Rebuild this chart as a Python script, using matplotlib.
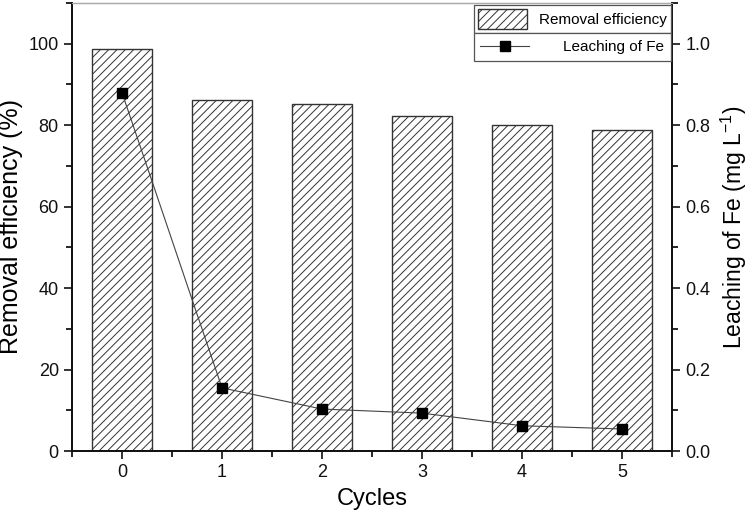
import matplotlib
matplotlib.use("Agg")
import matplotlib.pyplot as plt
from matplotlib.ticker import MultipleLocator, FormatStrFormatter
from matplotlib.patches import Patch
from matplotlib.lines import Line2D

plt.rcParams['font.family'] = ['Liberation Sans', 'DejaVu Sans']
plt.rcParams['hatch.linewidth'] = 0.7
plt.rcParams['hatch.color'] = '#333333'
plt.rcParams['mathtext.fontset'] = 'custom'
plt.rcParams['mathtext.rm'] = 'Liberation Sans'

cycles = [0, 1, 2, 3, 4, 5]
removal = [98.7, 86.3, 85.1, 82.2, 80.0, 78.7]
leaching = [0.88, 0.155, 0.103, 0.093, 0.062, 0.054]

fig = plt.figure(figsize=(7.49, 5.19), dpi=100)
ax = fig.add_axes([72/749, 68/519, 600/749, 448/519])
ax.bar(cycles, removal, width=0.6, color='white', edgecolor='#333333',
       linewidth=1.0, hatch='////')
ax.set_xlim(-0.5, 5.5)
ax.set_ylim(0, 110)
ax.xaxis.set_major_locator(MultipleLocator(1))
ax.xaxis.set_minor_locator(MultipleLocator(0.5))
ax.yaxis.set_major_locator(MultipleLocator(20))
ax.yaxis.set_minor_locator(MultipleLocator(10))
ax.tick_params(which='major', direction='out', length=6, width=1.2, labelsize=13, colors='#111111')
ax.tick_params(which='minor', direction='out', length=4, width=1.2)
ax.set_xlabel('Cycles', fontsize=17, labelpad=5)
ax.set_ylabel('Removal efficiency (%)', fontsize=18, labelpad=4)
for s in ['left', 'bottom', 'right']:
    ax.spines[s].set_linewidth(1.3)
    ax.spines[s].set_color('#111111')
ax.spines['top'].set_color('#aaaaaa')
ax.spines['top'].set_linewidth(1.0)

ax2 = ax.twinx()
ax2.plot(cycles, leaching, color='#444444', linewidth=0.8, marker='s',
         markersize=7, markerfacecolor='black', markeredgecolor='black')
ax2.set_ylim(0, 1.1)
ax2.yaxis.set_major_locator(MultipleLocator(0.2))
ax2.yaxis.set_minor_locator(MultipleLocator(0.1))
ax2.yaxis.set_major_formatter(FormatStrFormatter('%.1f'))
ax2.tick_params(which='major', direction='out', length=6, width=1.2, labelsize=13, colors='#111111')
ax2.tick_params(which='minor', direction='out', length=4, width=1.2)
ax2.set_ylabel('Leaching of Fe (mg L$^{-1}$)', fontsize=16.5, labelpad=6)
for s in ['left', 'bottom', 'right']:
    ax2.spines[s].set_linewidth(1.3)
    ax2.spines[s].set_color('#111111')
ax2.spines['top'].set_color('#aaaaaa')

h1 = Patch(facecolor='white', edgecolor='#333333', hatch='////', linewidth=1.0)
h2 = Line2D([], [], color='#444444', linewidth=0.8, marker='s', markersize=7,
            markerfacecolor='black', markeredgecolor='black')
leg1 = ax2.legend([h1], ['Removal efficiency'], loc='upper right',
                  bbox_to_anchor=(0.998, 0.996), fancybox=False, edgecolor='#555555',
                  framealpha=1, fontsize=11, handlelength=3.2, handleheight=1.7,
                  borderpad=0.25, borderaxespad=0)
leg1.get_frame().set_linewidth(0.9)
ax2.add_artist(leg1)
leg2 = ax2.legend([h2], ['Leaching of Fe'], loc='upper right',
                  bbox_to_anchor=(0.998, 0.933), fancybox=False, edgecolor='#555555',
                  framealpha=1, fontsize=11, handlelength=3.2,
                  borderpad=0.45, borderaxespad=0, handletextpad=2.2)
leg2.get_frame().set_linewidth(0.9)

fig.savefig('out.png', dpi=100)
